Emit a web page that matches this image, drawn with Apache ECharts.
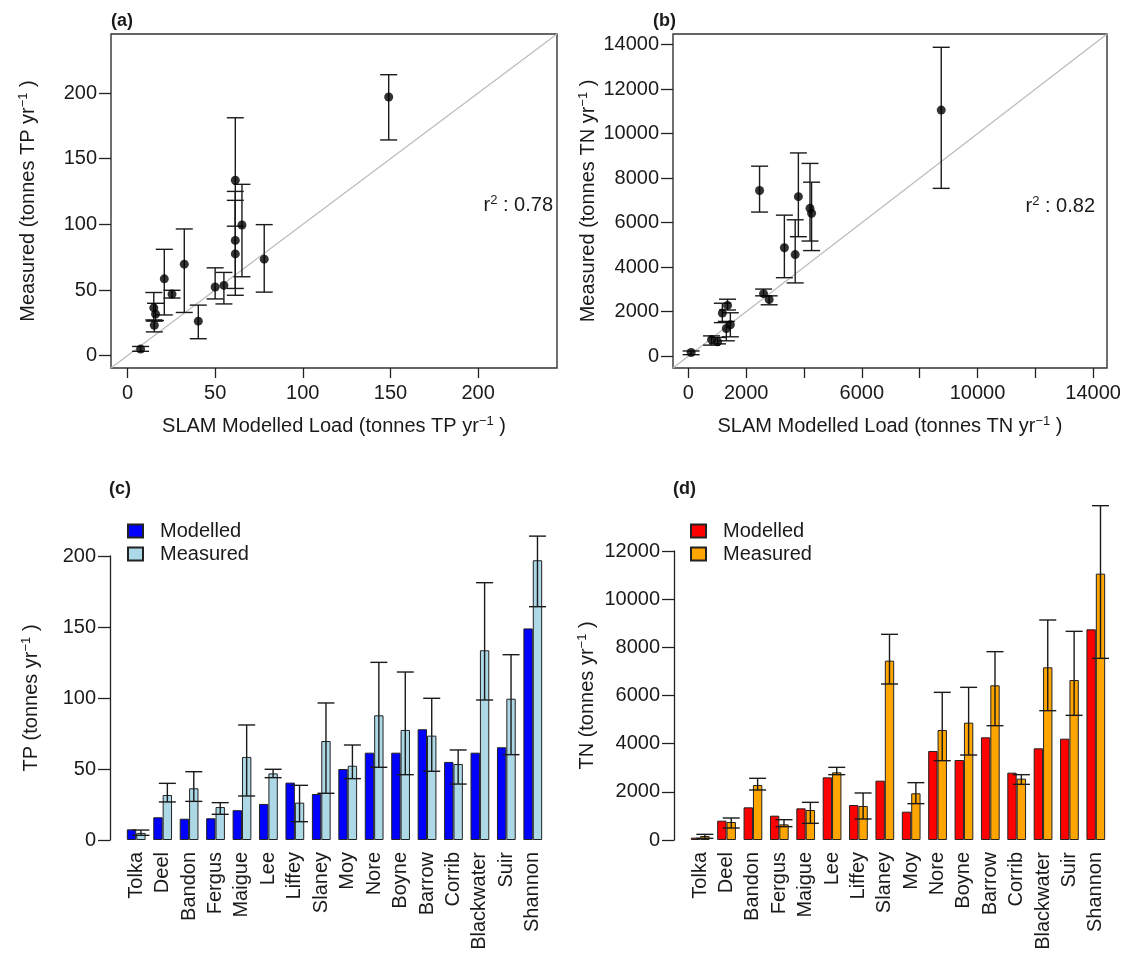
<!DOCTYPE html>
<html>
<head>
<meta charset="utf-8">
<script src="https://cdn.jsdelivr.net/npm/echarts@6/dist/echarts.min.js"></script>
<style>
html,body{margin:0;padding:0;background:#fff;}
#chart{width:1142px;height:955px;}
</style>
</head>
<body>
<div id="chart"></div>
<script>
// ---- data ----
const rivers = ['Tolka','Deel','Bandon','Fergus','Maigue','Lee','Liffey','Slaney','Moy','Nore','Boyne','Barrow','Corrib','Blackwater','Suir','Shannon'];

const tpModelled = [7.5, 16, 15, 15.3, 21, 25.4, 40.4, 32.4, 50, 61.5, 61.5, 78, 55, 61.5, 65.3, 149];
const tpMeasured = [5, 31.7, 36.4, 23.2, 58.5, 46.9, 26.3, 69.7, 52.3, 87.8, 77.5, 73.5, 53.5, 133.6, 99.5, 197];
const tpLow      = [3.3, 26.8, 27.2, 18.1, 31, 43.9, 12.9, 32.9, 43.2, 51.2, 46, 48.4, 39.4, 98.6, 60.1, 164.3];
const tpHigh     = [7, 39.9, 48.1, 26.3, 81, 49.8, 38.5, 96.5, 66.9, 125.1, 118.3, 99.8, 63.4, 181.2, 130.5, 214];

const tnModelled = [97, 803, 1356, 1010, 1315, 2602, 1453, 2464, 1176, 3696, 3322, 4263, 2796, 3806, 4208, 8747];
const tnMeasured = [166, 747, 2284, 650, 1246, 2810, 1412, 7446, 1938, 4567, 4872, 6422, 2547, 7170, 6644, 11059];
const tnLow      = [69, 498, 2076, 554, 692, 2713, 872, 6478, 1509, 3294, 3529, 4747, 2311, 5370, 5176, 7543];
const tnHigh     = [235, 913, 2561, 844, 1564, 3017, 1952, 8540, 2381, 6131, 6339, 7820, 2713, 9135, 8664, 13882];

const tpTicks = [0, 50, 100, 150, 200];
const tnTicks = [0, 2000, 4000, 6000, 8000, 10000, 12000, 14000];
const tnXLabels = [0, 2000, 6000, 10000, 14000];

const tpLim = [-9.4, 245];
const tnLim = [-530, 14480];

// ---- styling helpers ----
const FONT = 'Liberation Sans, Arial, sans-serif';
const TXT = '#1a1a1a';
const supRich = { sup: { fontSize: 13, fontFamily: FONT, color: TXT, verticalAlign: 'top', padding: [0, 0, 9, 0] } };
const nameStyle = { fontSize: 20, fontFamily: FONT, color: TXT, rich: supRich };
const labelStyle = { fontSize: 20, fontFamily: FONT, color: TXT, formatter: v => String(v) };
const CAP = 8.5;
const GAP = 0.29;

function errStyle() { return { stroke: '#1a1a1a', lineWidth: 1.4 }; }

function scatterErr(params, api) {
  const x = api.value(0), lo = api.value(1), hi = api.value(2);
  const a = api.coord([x, lo]), b = api.coord([x, hi]);
  return { type: 'group', children: [
    { type: 'line', shape: { x1: a[0], y1: a[1], x2: b[0], y2: b[1] }, style: errStyle() },
    { type: 'line', shape: { x1: a[0]-CAP, y1: a[1], x2: a[0]+CAP, y2: a[1] }, style: errStyle() },
    { type: 'line', shape: { x1: b[0]-CAP, y1: b[1], x2: b[0]+CAP, y2: b[1] }, style: errStyle() }
  ]};
}
function barErr(params, api) {
  const i = api.value(0), lo = api.value(1), hi = api.value(2);
  const band = api.size([1, 0])[0];
  const off = band * (1 - GAP) / 4;
  const a = api.coord([i, lo]), b = api.coord([i, hi]);
  const x = a[0] + off;
  return { type: 'group', children: [
    { type: 'line', shape: { x1: x, y1: a[1], x2: x, y2: b[1] }, style: errStyle() },
    { type: 'line', shape: { x1: x-CAP, y1: a[1], x2: x+CAP, y2: a[1] }, style: errStyle() },
    { type: 'line', shape: { x1: x-CAP, y1: b[1], x2: x+CAP, y2: b[1] }, style: errStyle() }
  ]};
}

const scatterAxisX = (gi, lim, ticks, labels, name) => ({
  type: 'value', gridIndex: gi, min: lim[0], max: lim[1],
  axisLine: { show: false, onZero: false },
  axisTick: { show: true, customValues: ticks, length: 10, lineStyle: { color: '#222', width: 1.3 } },
  axisLabel: Object.assign({ customValues: labels, margin: 15 }, labelStyle),
  splitLine: { show: false },
  name: name, nameLocation: 'middle', nameGap: 47, nameTextStyle: nameStyle
});
const scatterAxisY = (gi, lim, ticks, name, gap) => ({
  type: 'value', gridIndex: gi, min: lim[0], max: lim[1],
  axisLine: { show: false, onZero: false },
  axisTick: { show: true, customValues: ticks, length: 12, lineStyle: { color: '#222', width: 1.3 } },
  axisLabel: Object.assign({ customValues: ticks, margin: 14 }, labelStyle),
  splitLine: { show: false },
  name: name, nameLocation: 'middle', nameGap: gap, nameTextStyle: nameStyle
});
const barAxisX = (gi) => ({
  type: 'category', gridIndex: gi, data: rivers,
  axisLine: { show: false, onZero: false }, axisTick: { show: false },
  axisLabel: { rotate: 90, interval: 0, margin: 12, fontSize: 20, fontFamily: FONT, color: TXT }
});
const barAxisY = (gi, max, interval, name, gap) => ({
  type: 'value', gridIndex: gi, min: 0, max: max, interval: interval, offset: 13,
  axisLine: { show: true, onZero: false, lineStyle: { color: '#222', width: 1.3 } },
  axisTick: { show: true, length: 12, lineStyle: { color: '#222', width: 1.3 } },
  axisLabel: Object.assign({ margin: 14 }, labelStyle),
  splitLine: { show: false },
  name: name, nameLocation: 'middle', nameGap: gap, nameTextStyle: nameStyle
});

const barItem = (color) => ({ color: color, borderColor: '#222', borderWidth: 1 });

const option = {
  animation: false,
  backgroundColor: '#fff',
  textStyle: { fontFamily: FONT },
  grid: [
    { left: 111, top: 34, width: 446, height: 334, show: true, borderColor: '#333', borderWidth: 1.4, backgroundColor: 'transparent' },
    { left: 673, top: 34, width: 434, height: 334, show: true, borderColor: '#333', borderWidth: 1.4, backgroundColor: 'transparent' },
    { left: 123, top: 556, width: 423, height: 284 },
    { left: 687, top: 551, width: 422, height: 289 }
  ],
  xAxis: [
    scatterAxisX(0, tpLim, tpTicks, tpTicks, 'SLAM Modelled Load (tonnes TP yr{sup|−1} )'),
    scatterAxisX(1, tnLim, tnTicks, tnXLabels, 'SLAM Modelled Load (tonnes TN yr{sup|−1} )'),
    barAxisX(2),
    barAxisX(3)
  ],
  yAxis: [
    scatterAxisY(0, tpLim, tpTicks, 'Measured (tonnes TP yr{sup|−1} )', 72),
    scatterAxisY(1, tnLim, tnTicks, 'Measured (tonnes TN yr{sup|−1} )', 74),
    barAxisY(2, 200, 50, 'TP (tonnes yr{sup|−1} )', 68),
    barAxisY(3, 12000, 2000, 'TN (tonnes yr{sup|−1} )', 76)
  ],
  legend: [
    { left: 122, top: 516, orient: 'vertical', icon: 'rect', itemWidth: 15, itemHeight: 13, itemGap: 3,
      data: ['Modelled TP', 'Measured TP'], formatter: n => n.split(' ')[0],
      textStyle: { fontSize: 20, fontFamily: FONT, color: TXT, padding: [0, 0, 0, 12], lineHeight: 20 }, selectedMode: false },
    { left: 685, top: 516, orient: 'vertical', icon: 'rect', itemWidth: 15, itemHeight: 13, itemGap: 3,
      data: ['Modelled TN', 'Measured TN'], formatter: n => n.split(' ')[0],
      textStyle: { fontSize: 20, fontFamily: FONT, color: TXT, padding: [0, 0, 0, 12], lineHeight: 20 }, selectedMode: false }
  ],
  graphic: [
    { type: 'text', left: 111, top: 12, style: { text: '(a)', font: 'bold 18px ' + FONT, fill: TXT } },
    { type: 'text', left: 653, top: 12, style: { text: '(b)', font: 'bold 18px ' + FONT, fill: TXT } },
    { type: 'text', left: 109, top: 480, style: { text: '(c)', font: 'bold 18px ' + FONT, fill: TXT } },
    { type: 'text', left: 673, top: 480, style: { text: '(d)', font: 'bold 18px ' + FONT, fill: TXT } },
    { type: 'text', right: 1142 - 553, top: 194, style: { text: 'r{sup|2} : 0.78', fontSize: 20, fontFamily: FONT, fill: TXT, rich: supRich } },
    { type: 'text', right: 1142 - 1095, top: 195, style: { text: 'r{sup|2} : 0.82', fontSize: 20, fontFamily: FONT, fill: TXT, rich: supRich } }
  ],
  series: [
    // (a)
    { type: 'line', xAxisIndex: 0, yAxisIndex: 0, data: [[tpLim[0], tpLim[0]], [tpLim[1], tpLim[1]]],
      symbol: 'none', silent: true, lineStyle: { color: '#bdbdbd', width: 1.3 }, z: 1 },
    { type: 'custom', xAxisIndex: 0, yAxisIndex: 0, renderItem: scatterErr, z: 2,
      data: tpModelled.map((m, i) => [m, tpLow[i], tpHigh[i]]) },
    { type: 'scatter', xAxisIndex: 0, yAxisIndex: 0, symbolSize: 9, itemStyle: { color: '#000' }, z: 3,
      data: tpModelled.map((m, i) => [m, tpMeasured[i]]) },
    // (b)
    { type: 'line', xAxisIndex: 1, yAxisIndex: 1, data: [[tnLim[0], tnLim[0]], [tnLim[1], tnLim[1]]],
      symbol: 'none', silent: true, lineStyle: { color: '#bdbdbd', width: 1.3 }, z: 1 },
    { type: 'custom', xAxisIndex: 1, yAxisIndex: 1, renderItem: scatterErr, z: 2,
      data: tnModelled.map((m, i) => [m, tnLow[i], tnHigh[i]]) },
    { type: 'scatter', xAxisIndex: 1, yAxisIndex: 1, symbolSize: 9, itemStyle: { color: '#000' }, z: 3,
      data: tnModelled.map((m, i) => [m, tnMeasured[i]]) },
    // (c)
    { name: 'Modelled TP', type: 'bar', xAxisIndex: 2, yAxisIndex: 2, data: tpModelled,
      barGap: '0%', barCategoryGap: (GAP * 100) + '%', itemStyle: barItem('#0000ff') },
    { name: 'Measured TP', type: 'bar', xAxisIndex: 2, yAxisIndex: 2, data: tpMeasured,
      barGap: '0%', barCategoryGap: (GAP * 100) + '%', itemStyle: barItem('#add8e6') },
    { type: 'custom', xAxisIndex: 2, yAxisIndex: 2, renderItem: barErr, z: 5, clip: false,
      data: tpLow.map((l, i) => [i, l, tpHigh[i]]) },
    // (d)
    { name: 'Modelled TN', type: 'bar', xAxisIndex: 3, yAxisIndex: 3, data: tnModelled,
      barGap: '0%', barCategoryGap: (GAP * 100) + '%', itemStyle: barItem('#ff0000') },
    { name: 'Measured TN', type: 'bar', xAxisIndex: 3, yAxisIndex: 3, data: tnMeasured,
      barGap: '0%', barCategoryGap: (GAP * 100) + '%', itemStyle: barItem('#ffa500') },
    { type: 'custom', xAxisIndex: 3, yAxisIndex: 3, renderItem: barErr, z: 5, clip: false,
      data: tnLow.map((l, i) => [i, l, tnHigh[i]]) }
  ]
};

const chart = echarts.init(document.getElementById('chart'), null, { renderer: 'canvas' });
chart.setOption(option);
</script>
</body>
</html>
